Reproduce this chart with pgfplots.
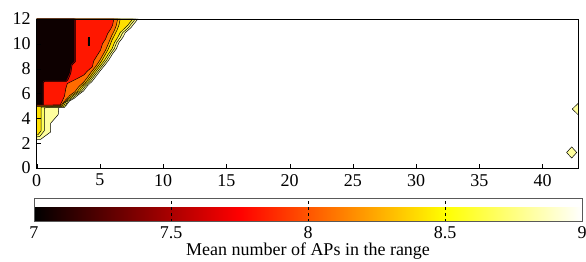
\documentclass[border=0pt]{standalone}
\usepackage{pgfplots}
\pgfplotsset{compat=1.18}
\usepackage{fontspec}
\setmainfont{Liberation Serif}
\newcommand{\myfont}{\fontsize{18bp}{21bp}\selectfont}
\definecolor{cblack}{rgb}{0.05,0,0}
\definecolor{cdred}{rgb}{0.55,0,0}
\definecolor{cred}{rgb}{1,0.09,0}
\definecolor{corange}{rgb}{1,0.42,0}
\definecolor{cyor}{rgb}{1,0.70,0}
\definecolor{cyel}{rgb}{1,0.88,0}
\definecolor{clyel}{rgb}{1,1,0.35}
\definecolor{cpale}{rgb}{1,1,0.62}
\pgfplotsset{/pgf/number format/assume math mode=true}
\begin{document}
\myfont
\begin{tikzpicture}
\begin{axis}[name=main,
  scale only axis, width=541.3bp, height=149bp,
  xmin=0, xmax=42.8, ymin=0, ymax=12,
  xtick={0,5,...,40}, ytick={0,2,...,12},
  tick align=inside, xtick pos=bottom, ytick pos=left,
  major tick length=4bp,
  axis on top,
  axis line style={black, line width=0.8pt},
  tick style={black},
  tick label style={font=\myfont},
  colormap={mhot}{rgb255(0cm)=(0,0,0); rgb255(3cm)=(255,0,0); rgb255(6cm)=(255,255,0); rgb255(8cm)=(255,255,255)},
  point meta min=7, point meta max=9,
  colorbar horizontal,
  colorbar style={
    at={(parent axis.south west)}, anchor=north west,
    xshift=-2.7bp, yshift=-22bp,
    scale only axis, width=548bp, height=23bp,
    xtick={7,7.5,8,8.5,9},
    xticklabels={7,7.5,8,8.5,9},
    tick label style={font=\myfont},
    xticklabel style={yshift=1bp},
    xlabel={Mean number of APs in the range},
    xlabel style={font=\myfont, yshift=8bp},
    xmajorgrids, major grid style={black, dashed, line width=0.5pt},
    major tick length=0pt,
    axis line style={gray!70!black},
  },
]
% outermost band (value 8.75 - 9)
\addplot[fill=cpale, draw=black, line width=0.5pt] coordinates {
 (0,12) (8.0,12) (7.6,11.5) (7.45,11.3) (7.0,10.9) (6.8,10.5) (6.5,10.1) (6.3,9.6) (6.0,9.2) (5.7,8.7) (5.4,8.3) (5.0,7.8) (4.7,7.4) (4.4,7.0) (4.0,6.6) (3.7,6.2) (3.3,5.9) (2.95,5.6) (2.6,5.4) (2.3,5.0) (1.75,4.9) (1.7,4.3) (1.1,3.6) (1.1,2.9) (0.3,2.3) (0,2.3) (0,12)};
% light yellow
\addplot[fill=clyel, draw=black, line width=0.5pt] coordinates {
 (0,12) (7.8,12) (7.4,11.5) (7.25,11.3) (6.8,10.9) (6.6,10.5) (6.32,10.1) (6.13,9.6) (5.84,9.2) (5.54,8.7) (5.24,8.3) (4.85,7.8) (4.55,7.4) (4.25,7.0) (3.85,6.6) (3.55,6.2) (3.15,5.9) (2.8,5.6) (2.45,5.35) (2.2,4.88) (0.6,4.85) (0.6,3.0) (0.25,2.55) (0,2.5) (0,12)};
% yellow
\addplot[fill=cyel, draw=black, line width=0.5pt] coordinates {
 (0,12) (7.6,12) (7.2,11.5) (7.0,11.3) (6.6,10.9) (6.4,10.5) (6.15,10.1) (5.96,9.6) (5.68,9.2) (5.38,8.7) (5.08,8.3) (4.7,7.8) (4.4,7.4) (4.1,7.0) (3.7,6.6) (3.4,6.2) (3.0,5.9) (2.65,5.6) (2.3,5.3) (2.1,4.93) (0.35,4.9) (0.35,3.0) (0.12,2.7) (0,2.65) (0,12)};
% yellow-orange
\addplot[fill=cyor, draw=black, line width=0.5pt] coordinates {
 (0,12) (6.6,12) (6.5,11.5) (6.35,11.1) (6.15,10.7) (5.95,10.3) (5.8,9.9) (5.62,9.5) (5.4,9.1) (5.15,8.65) (4.88,8.25) (4.5,7.75) (4.22,7.35) (3.92,6.95) (3.5,6.55) (3.2,6.15) (2.8,5.85) (2.45,5.55) (2.15,5.25) (2.0,4.97) (0,4.95) (0,12)};
% orange
\addplot[fill=corange, draw=black, line width=0.5pt] coordinates {
 (0,12) (6.4,12) (6.3,11.5) (6.15,11.1) (5.95,10.7) (5.78,10.3) (5.62,9.9) (5.45,9.5) (5.23,9.1) (4.98,8.65) (4.72,8.25) (4.33,7.75) (4.05,7.35) (3.75,6.95) (3.33,6.55) (3.03,6.15) (2.63,5.85) (2.3,5.5) (2.05,5.2) (1.92,5.02) (0,5.0) (0,12)};
% red
\addplot[fill=cred, draw=black, line width=0.5pt] coordinates {
 (0,12) (6.1,12) (6.0,11.5) (5.85,11.2) (5.6,10.8) (5.45,10.4) (5.2,10.0) (5.05,9.5) (4.8,9.1) (4.5,8.6) (4.4,8.15) (4.0,7.8) (3.74,7.5) (3.2,7.2) (2.42,6.8) (2.3,6.4) (2.2,5.8) (2.0,5.35) (1.85,5.08) (0,5.06) (0,12)};
% small spot inside red
\addplot[fill=cdred, draw=black, line width=0.4pt] coordinates {
 (4.05,9.9) (4.15,9.9) (4.15,10.5) (4.05,10.5) (4.05,9.9)};
% dark red rim
\addplot[fill=cdred, draw=black, line width=0.5pt] coordinates {
 (0,12) (3.05,12) (3.05,8.55) (2.8,8.3) (2.7,7.65) (2.5,7.15) (2.35,6.97) (0.62,6.97) (0.53,6.85) (0.53,5.1) (0,5.1) (0,12)};
% black core
\addplot[fill=cblack, draw=black, line width=0.5pt] coordinates {
 (0,12) (2.95,12) (2.95,8.6) (2.7,8.35) (2.6,7.7) (2.4,7.25) (2.3,7.05) (0.55,7.05) (0.45,6.9) (0.45,5.15) (0,5.15) (0,12)};
% small islands at the right edge
\addplot[fill=cpale, draw=black, line width=0.5pt] coordinates {
 (41.9,1.25) (42.3,1.7) (42.7,1.25) (42.3,0.8) (41.9,1.25)};
\addplot[fill=cpale, draw=black, line width=0.5pt] coordinates {
 (42.35,4.75) (42.85,5.25) (42.85,4.25) (42.35,4.75)};
\end{axis}
\pgfresetboundingbox
\path (main.south west) ++(-36.7bp,-94bp) coordinate (bl);
\path (main.north east) ++(8bp,19bp) coordinate (tr);
\path (bl) rectangle (tr);
\end{tikzpicture}
\end{document}
